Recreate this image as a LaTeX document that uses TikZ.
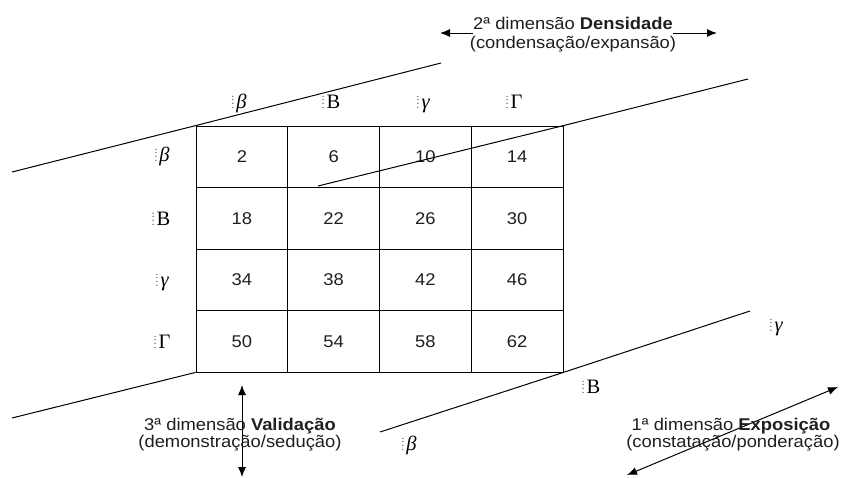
\documentclass[tikz,border=0pt]{standalone}
\usepackage{fontspec}
\setmainfont{Liberation Sans}[FakeStretch=1.08]
\newfontfamily\gkfont{Liberation Serif}
\usetikzlibrary{arrows.meta}
\definecolor{dotgray}{gray}{0.3}
\definecolor{ink}{gray}{0.12}
\newcommand\dotcol{{\color{dotgray}\vbox{\fontsize{10.5}{3.6}\selectfont\lineskiplimit=-20pt\lineskip=0pt\hbox{.}\hbox{.}\hbox{.}\hbox{.}}}}
\newcommand\lbi[1]{\dotcol\kern2pt{\gkfont\itshape #1}}
\newcommand\lbu[1]{\dotcol\kern2pt{\gkfont #1}}
\tikzset{
  cell/.style={draw, line width=0.8pt, minimum width=91.75pt, minimum height=61.5pt, inner sep=0pt, font=\fontsize{17}{17}\selectfont, text=ink},
  lab/.style={anchor=base, inner sep=0pt, font=\fontsize{20.5}{20.5}\selectfont},
  dimtxt/.style={anchor=base, inner sep=0pt, font=\fontsize{17}{17}\selectfont, text=ink},
  edgeline/.style={line width=1pt},
  arr/.style={line width=1pt, -{Latex[length=10pt,width=8pt]}},
  darr/.style={line width=1pt, {Latex[length=10pt,width=8pt]}-{Latex[length=10pt,width=8pt]}},
}
\begin{document}
\begin{tikzpicture}[x=1pt,y=-1pt]
\useasboundingbox (0,0) rectangle (841,477);
% grid of cells
\foreach \r in {0,1,2,3}{
  \foreach \c in {0,1,2,3}{
    \pgfmathtruncatemacro\num{2+16*\r+4*\c}
    \node[cell] (c\r\c) at ({196+91.75*(\c+0.5)},{126+61.5*(\r+0.5)}) {\num};
  }
}
% perspective lines
\coordinate (L1a) at (12,172);
\coordinate (L1b) at (441,63);
\coordinate (L2a) at (318,186);
\coordinate (L2b) at (748,79);
\coordinate (L3a) at (12,418);
\coordinate (L4a) at (380,432);
\coordinate (L4b) at (750,311);
\draw[edgeline] (L1a) -- (c00.north west) -- (L1b);
\draw[edgeline] (L2a) -- (c03.north east) -- (L2b);
\draw[edgeline] (L3a) -- (c30.south west);
\draw[edgeline] (L4a) -- (c33.south east) -- (L4b);
% column labels
\node[lab] (h1) at (239,108) {\lbi{β}};
\node[lab] (h2) at (331,108) {\lbu{B}};
\node[lab] (h3) at (423,108) {\lbi{γ}};
\node[lab] (h4) at (514,108) {\lbu{Γ}};
% row labels
\node[lab] (v1) at (162,161) {\lbi{β}};
\node[lab] (v2) at (161,225) {\lbu{B}};
\node[lab] (v3) at (162,286) {\lbi{γ}};
\node[lab] (v4) at (162,348) {\lbu{Γ}};
% depth labels
\node[lab] (p1) at (776,331) {\lbi{γ}};
\node[lab] (p2) at (591,393) {\lbu{B}};
\node[lab] (p3) at (409,450) {\lbi{β}};
% 2nd dimension
\node[dimtxt] (d2a) at (573,29) {2ª dimensão \textbf{Densidade}};
\node[dimtxt] (d2b) at (573,48) {(condensação/expansão)};
\coordinate (d2l) at (440,33);
\coordinate (d2r) at (717,33);
\draw[arr] (d2a.west |- d2l) -- (d2l);
\draw[arr] (d2a.east |- d2r) -- (d2r);
% 3rd dimension
\coordinate (v3t) at (242,385);
\coordinate (v3b) at (242,477);
\draw[darr] (v3t) -- (v3b);
\node[dimtxt] (d3a) at (240,430) {3ª dimensão \textbf{Validação}};
\node[dimtxt] (d3b) at (240,447) {(demonstração/sedução)};
% 1st dimension
\coordinate (e1a) at (627,475);
\coordinate (e1b) at (838,387);
\draw[darr] (e1a) -- (e1b);
\node[dimtxt] (d1a) at (731,430) {1ª dimensão \textbf{Exposição}};
\node[dimtxt] (d1b) at (733,447) {(constatação/ponderação)};
\end{tikzpicture}
\end{document}
